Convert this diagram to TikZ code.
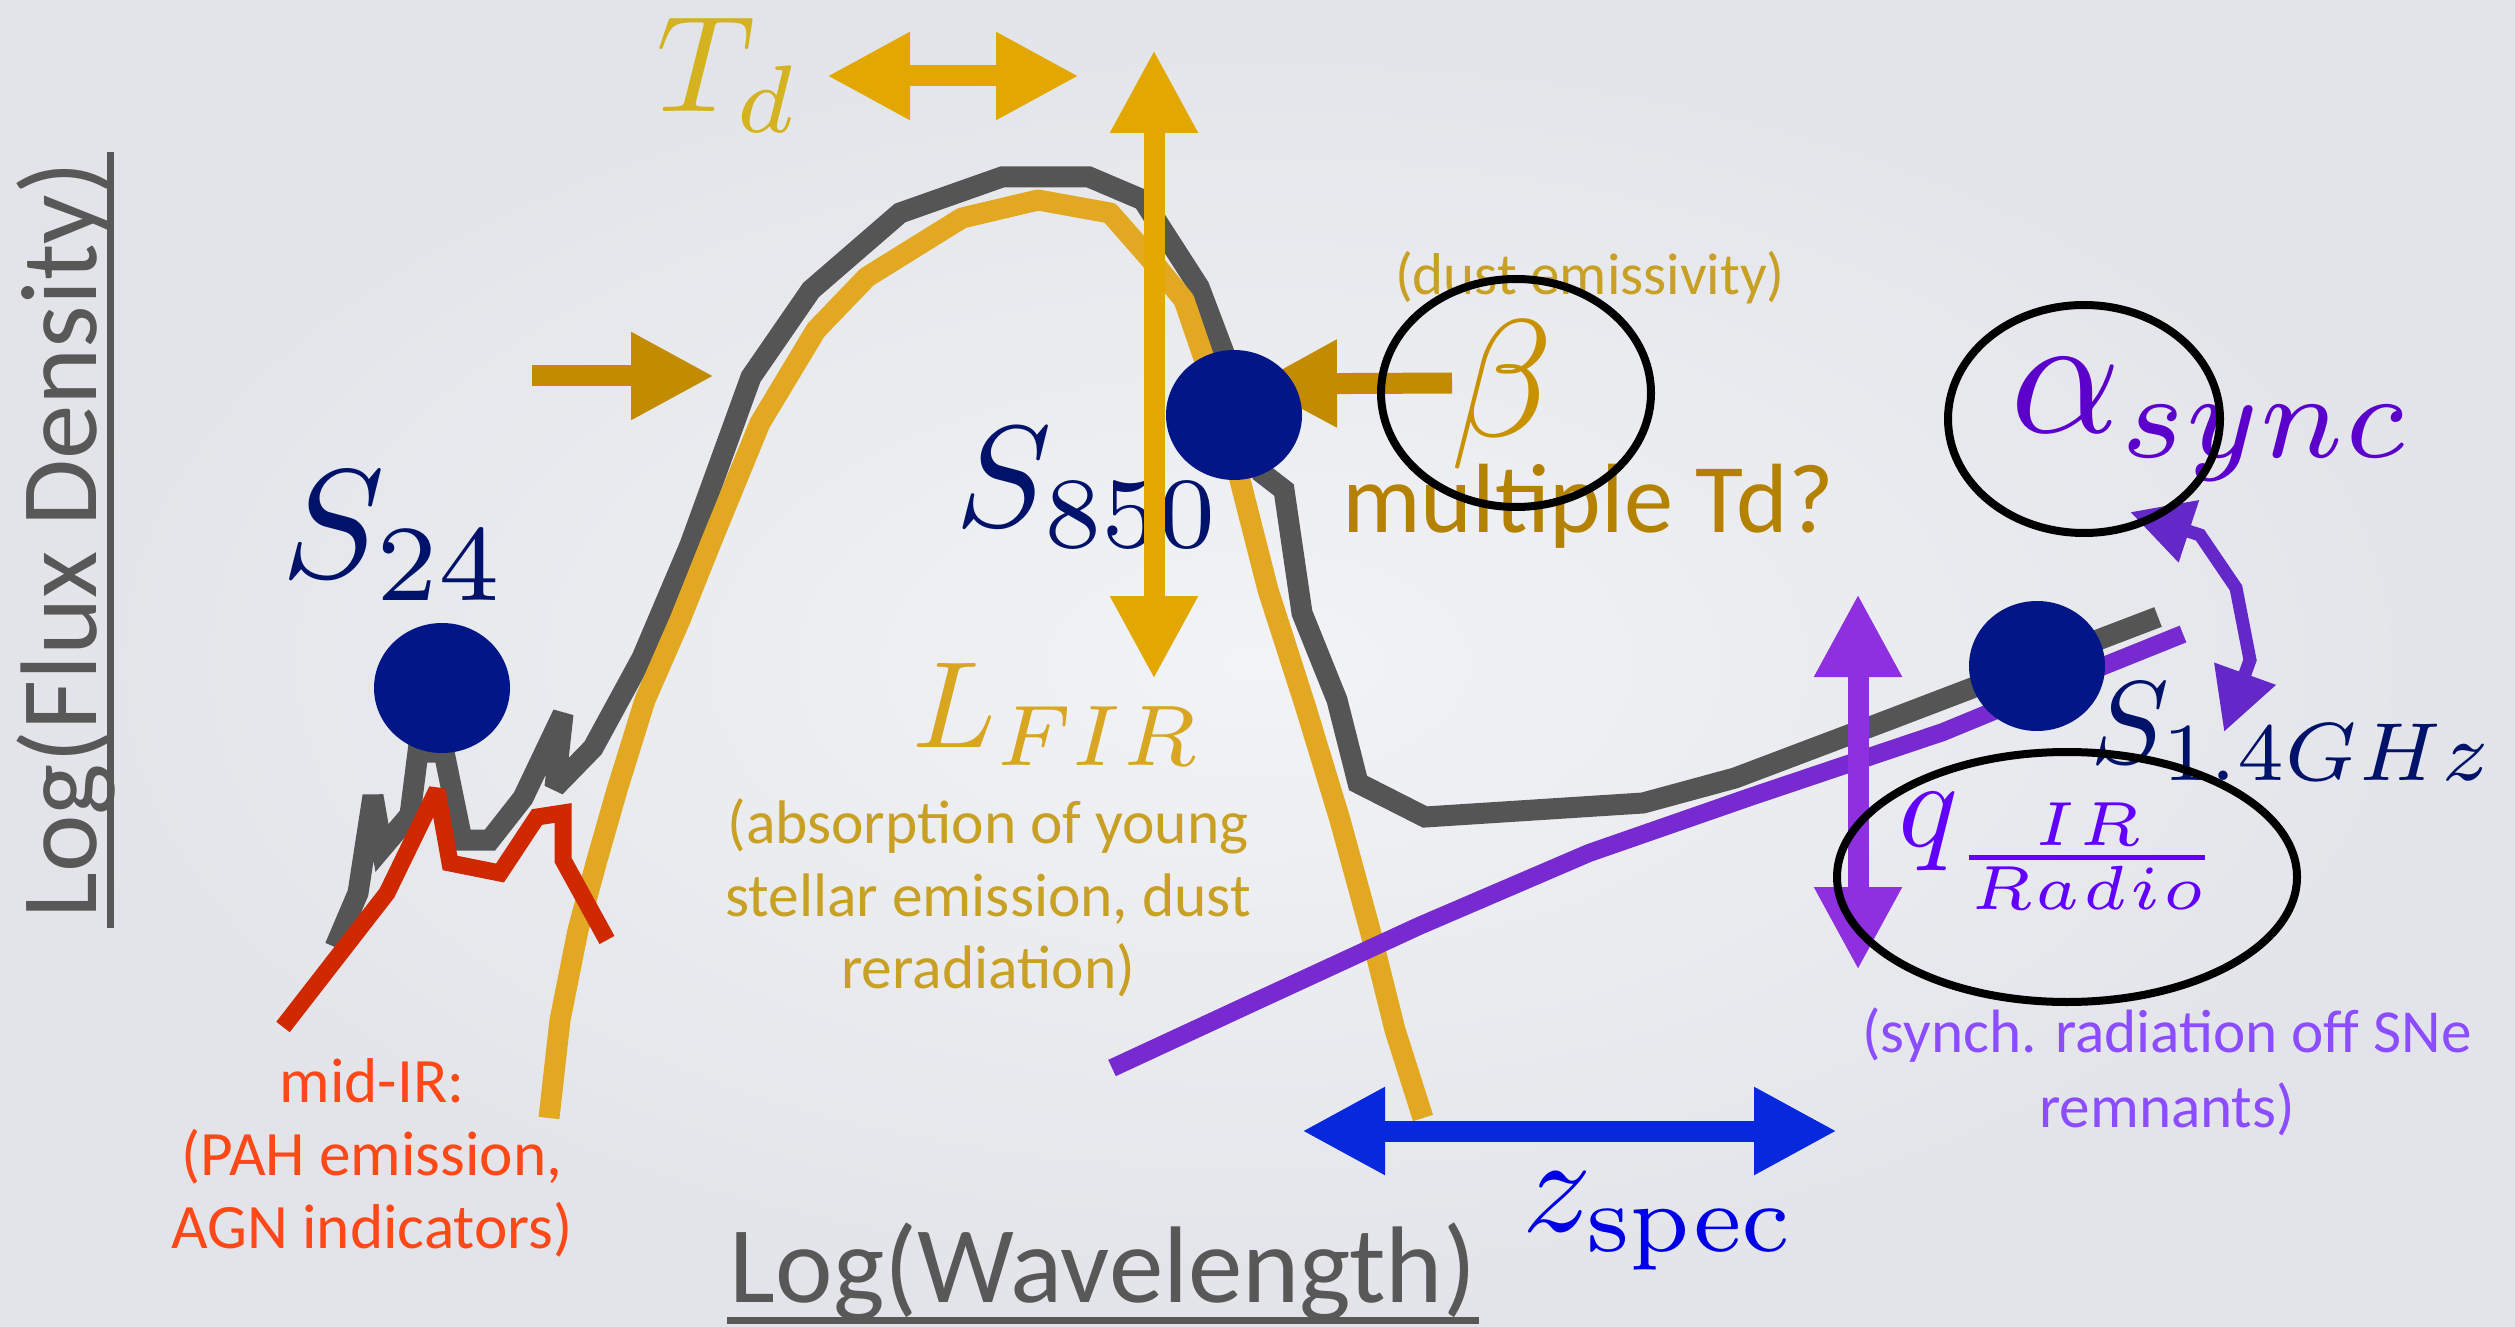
\documentclass[tikz,border=0pt]{standalone}
\usepackage[no-math]{fontspec}
\setmainfont{Carlito}
\usepackage{graphicx}
\usetikzlibrary{arrows.meta,shapes.geometric}
\definecolor{bgin}{RGB}{242,243,246}
\definecolor{bgout}{RGB}{226,228,233}
\definecolor{axisgray}{RGB}{88,88,88}
\definecolor{sedgray}{RGB}{85,85,85}
\definecolor{sedgold}{RGB}{227,168,34}
\definecolor{pahred}{RGB}{208,40,0}
\definecolor{radiopurple}{RGB}{118,42,208}
\definecolor{fluxnavy}{RGB}{2,22,135}
\definecolor{labelnavy}{RGB}{0,18,105}
\definecolor{arrowgold}{RGB}{226,167,0}
\definecolor{pushgold}{RGB}{194,139,0}
\definecolor{tdgold}{RGB}{212,178,32}
\definecolor{firgold}{RGB}{216,166,32}
\definecolor{betagold}{RGB}{200,145,0}
\definecolor{notegold}{RGB}{200,160,36}
\definecolor{multigold}{RGB}{180,130,0}
\definecolor{midred}{RGB}{255,72,24}
\definecolor{zblue}{RGB}{8,40,222}
\definecolor{zlabel}{RGB}{0,0,230}
\definecolor{qarrow}{RGB}{142,48,224}
\definecolor{qlabel}{RGB}{98,0,255}
\definecolor{syncarrow}{RGB}{100,40,200}
\definecolor{synclabel}{RGB}{92,0,204}
\definecolor{synchtext}{RGB}{140,76,255}
\tikzset{
  sedline/.style={line width=2.1mm, line join=miter, miter limit=3},
  twohead/.style={line width=2.1mm, arrows={Triangle[length=8.3mm,width=8.2mm]-Triangle[length=8.3mm,width=8.2mm]}},
  onehead/.style={line width=2.1mm, arrows={-Triangle[length=8.3mm,width=8.2mm]}},
  fluxdot/.style={ellipse, fill=fluxnavy, inner sep=0pt, minimum width=13.6mm, minimum height=13mm},
  ring/.style={ellipse, draw=black, line width=0.8mm, inner sep=0pt},
  mathlabel/.style={inner sep=0pt, anchor=base west},
  note/.style={inner sep=0pt, align=center, font=\fontsize{17.5}{20.6}\selectfont},
  axislabel/.style={inner sep=0pt, anchor=base, text=axisgray, font=\fontsize{31}{36}\selectfont},
}
\begin{document}
\begin{tikzpicture}[x=0.1mm, y=-0.1mm]
\useasboundingbox (0,0) rectangle (2515,1327);
\shade[inner color=bgin, outer color=bgout] (0,0) rectangle (2515,1327);
\draw[sedline, sedgray] (335,947) -- (358,893) -- (373,796) -- (382,848) -- (410,815) -- (418,752) -- (444,752) -- (462,840) -- (490,840) -- (523,798) -- (563,714) -- (555,787) -- (593,748) -- (642,658) -- (690,545) -- (751,377) -- (811,290) -- (900,213) -- (1002,177) -- (1089,177) -- (1143,200) -- (1199,287) -- (1224,353) -- (1262,473) -- (1284,490) -- (1302,613) -- (1337,700) -- (1358,783) -- (1425,817) -- (1643,803) -- (1735,778) -- (1891,719) -- (2158,617);
\draw[sedline, sedgold, line join=round] (549,1118) -- (560,1020) -- (578,930) -- (597,860) -- (617,790) -- (645,700) -- (680,620) -- (712,540) -- (760,423) -- (816,330) -- (867,277) -- (962,218) -- (1038,200) -- (1110,213) -- (1153,262) -- (1184,300) -- (1224,417) -- (1240,480) -- (1268,590) -- (1305,705) -- (1340,820) -- (1370,930) -- (1395,1030) -- (1423,1118);
\draw[sedline, pahred, line width=1.7mm] (283,1027) -- (387,893) -- (437,790) -- (450,863) -- (500,873) -- (537,817) -- (563,813) -- (563,860) -- (607,940);
\draw[sedline, radiopurple, line width=1.8mm] (1112,1068) -- (1250,1004) -- (1419,926) -- (1589,853) -- (1750,797) -- (1943,732) -- (2096,669) -- (2183,634);
\node[axislabel, rotate=90] (ylab) at (96,540) {Log(Flux Density)}; \draw[axisgray, line width=0.7mm] (110,152) -- (110,928);
\node[axislabel] (xlab) at (1103,1302) {Log(Wavelength)}; \draw[axisgray, line width=0.7mm] (727,1320) -- (1479,1320);
\node[mathlabel, text=tdgold] (td) at (656,112) {\scalebox{3.9}{$T_d$}};
\node[mathlabel, text=labelnavy] (l24) at (281,577) {\scalebox{4.4}{$S_{24}$}};
\node[mathlabel, text=labelnavy] (l850) at (955,526) {\scalebox{4.1}{$S_{850}$}};
\node[mathlabel, text=firgold] (lfir) at (912,747) {\scalebox{3.5}{$L_{FIR}$}};
\node[mathlabel, text=betagold] (lbeta) at (1450,437) {\scalebox{4.75}{$\beta$}};
\node[mathlabel, text=synclabel] (lsync) at (2010,432) {\scalebox{4.9}{$\alpha_{sync}$}};
\node[mathlabel, text=labelnavy] (lghz) at (2090,763) {\scalebox{3.35}{$S_{1.4GHz}$}};
\node[mathlabel, text=qlabel] (lq) at (1898,846) {\scalebox{3.55}{$q_{\frac{IR}{Radio}}$}};
\node[mathlabel, text=zlabel] (lz) at (1522,1231) {\scalebox{3.9}{$z_{\mathrm{spec}}$}};
\node[note, text=midred, font=\fontsize{18}{20.8}\selectfont] (midir) at (372,1158) {mid-IR:\\(PAH emission,\\AGN indicators)};
\node[note, text=notegold] (absorb) at (988,898) {(absorption of young\\stellar emission, dust\\reradiation)};
\node[note, text=notegold, anchor=base, font=\fontsize{16.8}{20}\selectfont] (emis) at (1590,295) {(dust emissivity)};
\node[inner sep=0pt, anchor=base, text=multigold, font=\fontsize{28}{32}\selectfont] (multi) at (1588,532) {multiple Td?};
\node[note, text=synchtext, font=\fontsize{17.4}{21.5}\selectfont] (synch) at (2167,1072) {(synch. radiation off SNe\\remnants)};
\coordinate (tdL) at (827,76); \coordinate (tdR) at (1079,76); \draw[twohead, arrowgold] (tdL) -- (tdR);
\coordinate (firT) at (1154,50); \coordinate (firB) at (1154,679); \draw[twohead, arrowgold] (firT) -- (firB);
\coordinate (pushA) at (532,376); \coordinate (pushB) at (714,376); \draw[onehead, pushgold] (pushA) -- (pushB);
\coordinate (betaA) at (1452,383); \coordinate (betaB) at (1254,384); \draw[onehead, pushgold] (betaA) -- (betaB);
\coordinate (zL) at (1302,1131); \coordinate (zR) at (1837,1131); \draw[twohead, zblue] (zL) -- (zR);
\coordinate (qT) at (1858,594); \coordinate (qB) at (1858,970); \draw[twohead, qarrow] (qT) -- (qB);
\coordinate (syncT) at (2130,512); \coordinate (syncB) at (2224,732);
\draw[syncarrow, line width=1.3mm, line join=miter, arrows={Triangle[length=6.2mm,width=6.2mm]-Triangle[length=6.2mm,width=6.2mm]}] (syncT) -- (2200,535) -- (2236,588) -- (2250,660) -- (syncB);
\node[fluxdot] (d24) at (442,688) {}; \node[fluxdot] (d850) at (1234,415) {}; \node[fluxdot] (dghz) at (2037,666) {};
\node[ring, minimum width=27mm, minimum height=22.8mm] (betaring) at (1516,393) {};
\node[ring, minimum width=27.2mm, minimum height=22.8mm] (syncring) at (2084,419) {};
\node[ring, minimum width=46mm, minimum height=25mm] (qring) at (2067,877) {};
\end{tikzpicture}
\end{document}
